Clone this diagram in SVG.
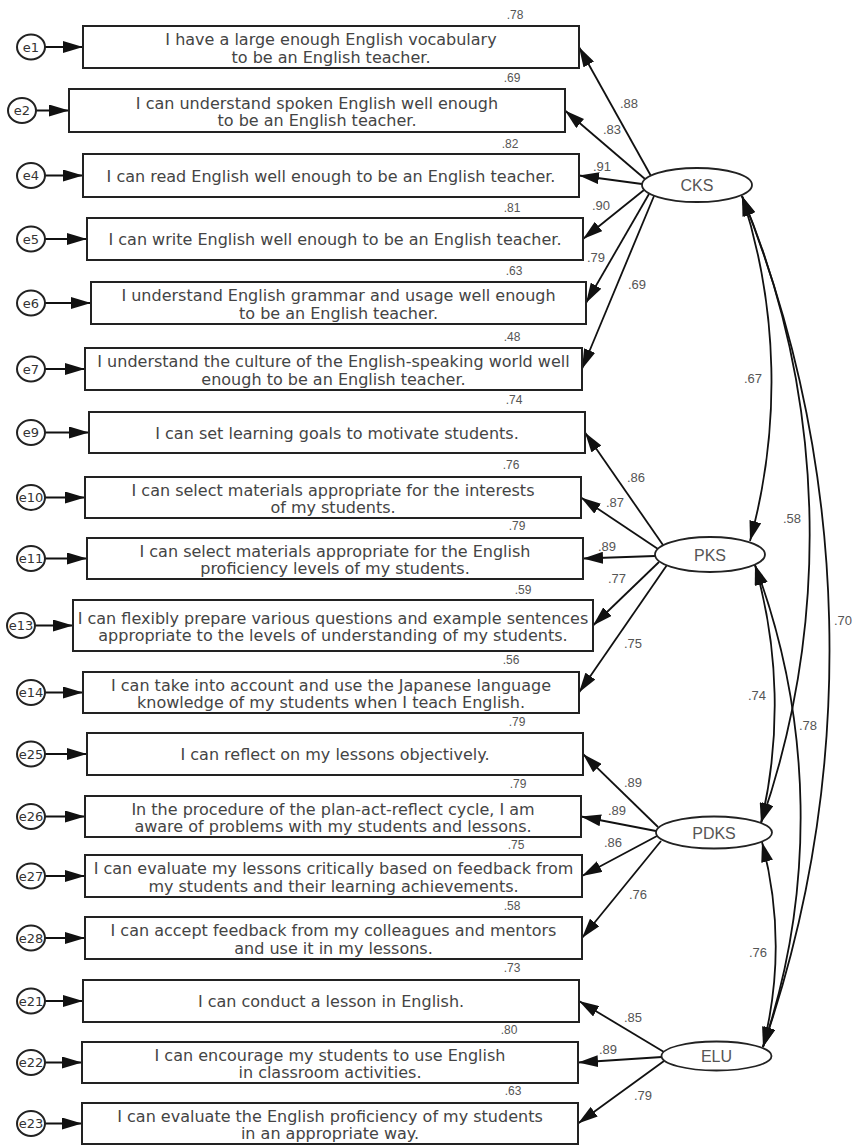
<svg xmlns="http://www.w3.org/2000/svg" width="856" height="1145" viewBox="0 0 856 1145">
<style>
.box{fill:#fff;stroke:#222;stroke-width:2}
.err{fill:#fff;stroke:#222;stroke-width:2}
.lat{fill:#fff;stroke:#222;stroke-width:1.8}
.t{font-family:"DejaVu Sans",sans-serif;font-size:16px;fill:#444;text-anchor:middle}
.el{font-family:"DejaVu Sans",sans-serif;font-size:13px;fill:#333;text-anchor:middle}
.lt{font-family:"Liberation Sans",Arial,sans-serif;font-size:16px;fill:#555;text-anchor:middle}
.n{font-family:"Liberation Sans",Arial,sans-serif;font-size:13px;fill:#555;text-anchor:middle}
.r{font-family:"Liberation Sans",Arial,sans-serif;font-size:12px;fill:#555;text-anchor:middle}
.c line,.c path{stroke:#111;stroke-width:1.8;fill:none;marker-end:url(#ah)}
.c path.cov{marker-start:url(#ah)}
</style>
<defs>
<marker id="ah" markerUnits="userSpaceOnUse" viewBox="0 0 20 12" markerWidth="20" markerHeight="12" refX="20" refY="6" orient="auto-start-reverse">
<path d="M0,0 L20,6 L0,12 Z" fill="#111"/>
</marker>
</defs>
<rect width="856" height="1145" fill="#fff"/>

<g id="connectors" class="c">
<line x1="45" y1="47" x2="83" y2="47"/>
<line x1="36" y1="110.5" x2="69" y2="110.5"/>
<line x1="45" y1="175.5" x2="83" y2="175.5"/>
<line x1="45" y1="239" x2="87" y2="239"/>
<line x1="45" y1="303" x2="91" y2="303"/>
<line x1="45" y1="369" x2="85" y2="369"/>
<line x1="45" y1="432.5" x2="89" y2="432.5"/>
<line x1="45" y1="497.5" x2="85" y2="497.5"/>
<line x1="45" y1="558.5" x2="87" y2="558.5"/>
<line x1="35" y1="625.5" x2="73" y2="625.5"/>
<line x1="45" y1="692.5" x2="83" y2="692.5"/>
<line x1="45" y1="754" x2="87" y2="754"/>
<line x1="45" y1="816.5" x2="85" y2="816.5"/>
<line x1="45" y1="876" x2="85" y2="876"/>
<line x1="45" y1="938" x2="85" y2="938"/>
<line x1="45" y1="1001" x2="83" y2="1001"/>
<line x1="45" y1="1062.5" x2="82" y2="1062.5"/>
<line x1="45" y1="1123.5" x2="82" y2="1123.5"/>

<line x1="651" y1="176" x2="579" y2="47"/>
<line x1="645" y1="179" x2="565" y2="110.5"/>
<line x1="642" y1="184" x2="579" y2="175.5"/>
<line x1="644" y1="190" x2="583" y2="239"/>
<line x1="649" y1="194" x2="586" y2="303"/>
<line x1="654" y1="196" x2="582" y2="369"/>

<line x1="663" y1="545" x2="585" y2="432.5"/>
<line x1="658" y1="549" x2="581" y2="497.5"/>
<line x1="655" y1="556" x2="583" y2="558.5"/>
<line x1="659" y1="562" x2="593" y2="625.5"/>
<line x1="667" y1="565" x2="579" y2="692.5"/>

<line x1="658" y1="827" x2="583" y2="754"/>
<line x1="656" y1="831" x2="581" y2="816.5"/>
<line x1="657" y1="836" x2="582" y2="876"/>
<line x1="661" y1="841" x2="582" y2="938"/>

<line x1="664" y1="1052" x2="579" y2="1001"/>
<line x1="662" y1="1057" x2="578" y2="1062.5"/>
<line x1="664" y1="1061" x2="578" y2="1123.5"/>

<path class="cov" d="M742,196 A600,600 0 0 1 750,541"/>
<path class="cov" d="M742,196 A880,880 0 0 1 761,823"/>
<path class="cov" d="M742,196 A1220,1220 0 0 1 763,1047"/>
<path class="cov" d="M755,565 A720,720 0 0 1 763,1047"/>
<path class="cov" d="M755,565 A510,510 0 0 1 761,823"/>
<path class="cov" d="M762,842 A410,410 0 0 1 763,1047"/>
</g>

<g id="labels">
<text class="n" x="629" y="107.5">.88</text>
<text class="n" x="612" y="133.5">.83</text>
<text class="n" x="602" y="170.5">.91</text>
<text class="n" x="601" y="209.5">.90</text>
<text class="n" x="596" y="261.5">.79</text>
<text class="n" x="637" y="288.5">.69</text>
<text class="n" x="636" y="481.5">.86</text>
<text class="n" x="615" y="506.5">.87</text>
<text class="n" x="607" y="550.5">.89</text>
<text class="n" x="617" y="582.5">.77</text>
<text class="n" x="633" y="647.5">.75</text>
<text class="n" x="633" y="786.5">.89</text>
<text class="n" x="617" y="814.5">.89</text>
<text class="n" x="613" y="846.5">.86</text>
<text class="n" x="638" y="898.5">.76</text>
<text class="n" x="633" y="1021.5">.85</text>
<text class="n" x="608" y="1053.5">.89</text>
<text class="n" x="643" y="1099.5">.79</text>
<text class="n" x="753" y="382.5">.67</text>
<text class="n" x="792" y="522.5">.58</text>
<text class="n" x="843" y="624.5">.70</text>
<text class="n" x="757" y="699.5">.74</text>
<text class="n" x="808" y="729.5">.78</text>
<text class="n" x="758" y="956.5">.76</text>
</g>

<g id="CKS"><ellipse class="lat" cx="697" cy="185" rx="55" ry="17"/><text class="lt" x="697" y="191">CKS</text></g>
<g id="PKS"><ellipse class="lat" cx="710" cy="554.5" rx="55" ry="17.5"/><text class="lt" x="710" y="560.5">PKS</text></g>
<g id="PDKS"><ellipse class="lat" cx="714" cy="832.5" rx="58" ry="16"/><text class="lt" x="714" y="838.5">PDKS</text></g>
<g id="ELU"><ellipse class="lat" cx="716.5" cy="1056" rx="55" ry="14.5"/><text class="lt" x="716.5" y="1062">ELU</text></g>

<g id="item1"><rect class="box" x="83" y="26" width="496" height="42"/><text class="t" x="331" y="45">I have a large enough English vocabulary</text><text class="t" x="331" y="62.5">to be an English teacher.</text><text class="r" x="515" y="19">.78</text></g>
<g id="e1"><ellipse class="err" cx="31" cy="47" rx="14" ry="12.5"/><text class="el" x="31" y="51.5">e1</text></g>

<g id="item2"><rect class="box" x="69" y="89" width="496" height="43"/><text class="t" x="317" y="108.5">I can understand spoken English well enough</text><text class="t" x="317" y="126">to be an English teacher.</text><text class="r" x="512" y="82">.69</text></g>
<g id="e2"><ellipse class="err" cx="22" cy="110.5" rx="14" ry="12.5"/><text class="el" x="22" y="115">e2</text></g>

<g id="item4"><rect class="box" x="83" y="154" width="496" height="43"/><text class="t" x="331" y="181.5">I can read English well enough to be an English teacher.</text><text class="r" x="510" y="148">.82</text></g>
<g id="e4"><ellipse class="err" cx="31" cy="175.5" rx="14" ry="12.5"/><text class="el" x="31" y="180">e4</text></g>

<g id="item5"><rect class="box" x="87" y="218" width="496" height="42"/><text class="t" x="335" y="245">I can write English well enough to be an English teacher.</text><text class="r" x="512" y="212">.81</text></g>
<g id="e5"><ellipse class="err" cx="31" cy="239" rx="14" ry="12.5"/><text class="el" x="31" y="243.5">e5</text></g>

<g id="item6"><rect class="box" x="91" y="282" width="495" height="42"/><text class="t" x="338.5" y="301">I understand English grammar and usage well enough</text><text class="t" x="338.5" y="318.5">to be an English teacher.</text><text class="r" x="514" y="275">.63</text></g>
<g id="e6"><ellipse class="err" cx="31" cy="303" rx="14" ry="12.5"/><text class="el" x="31" y="307.5">e6</text></g>

<g id="item7"><rect class="box" x="85" y="348" width="497" height="42"/><text class="t" x="333.5" y="367">I understand the culture of the English-speaking world well</text><text class="t" x="333.5" y="384.5">enough to be an English teacher.</text><text class="r" x="512" y="341">.48</text></g>
<g id="e7"><ellipse class="err" cx="31" cy="369" rx="14" ry="12.5"/><text class="el" x="31" y="373.5">e7</text></g>

<g id="item9"><rect class="box" x="89" y="412" width="496" height="41"/><text class="t" x="337" y="438.5">I can set learning goals to motivate students.</text><text class="r" x="514" y="404">.74</text></g>
<g id="e9"><ellipse class="err" cx="31" cy="432.5" rx="14" ry="12.5"/><text class="el" x="31" y="437">e9</text></g>

<g id="item10"><rect class="box" x="85" y="477" width="496" height="41"/><text class="t" x="333" y="495.5">I can select materials appropriate for the interests</text><text class="t" x="333" y="513">of my students.</text><text class="r" x="511" y="469">.76</text></g>
<g id="e10"><ellipse class="err" cx="31" cy="497.5" rx="14" ry="12.5"/><text class="el" x="31" y="502">e10</text></g>

<g id="item11"><rect class="box" x="87" y="538" width="496" height="41"/><text class="t" x="335" y="556.5">I can select materials appropriate for the English</text><text class="t" x="335" y="574">proficiency levels of my students.</text><text class="r" x="517" y="530">.79</text></g>
<g id="e11"><ellipse class="err" cx="31" cy="558.5" rx="14" ry="12.5"/><text class="el" x="31" y="563">e11</text></g>

<g id="item13"><rect class="box" x="73" y="600" width="520" height="51"/><text class="t" x="333" y="623.5">I can flexibly prepare various questions and example sentences</text><text class="t" x="333" y="641">appropriate to the levels of understanding of my students.</text><text class="r" x="523" y="594">.59</text></g>
<g id="e13"><ellipse class="err" cx="21" cy="625.5" rx="14" ry="12.5"/><text class="el" x="21" y="630">e13</text></g>

<g id="item14"><rect class="box" x="83" y="672" width="496" height="41"/><text class="t" x="331" y="690.5">I can take into account and use the Japanese language</text><text class="t" x="331" y="708">knowledge of my students when I teach English.</text><text class="r" x="511" y="664">.56</text></g>
<g id="e14"><ellipse class="err" cx="31" cy="692.5" rx="14" ry="12.5"/><text class="el" x="31" y="697">e14</text></g>

<g id="item25"><rect class="box" x="87" y="733" width="496" height="42"/><text class="t" x="335" y="760">I can reflect on my lessons objectively.</text><text class="r" x="517" y="726">.79</text></g>
<g id="e25"><ellipse class="err" cx="31" cy="754" rx="14" ry="12.5"/><text class="el" x="31" y="758.5">e25</text></g>

<g id="item26"><rect class="box" x="85" y="796" width="496" height="41"/><text class="t" x="333" y="814.5">In the procedure of the plan-act-reflect cycle, I am</text><text class="t" x="333" y="832">aware of problems with my students and lessons.</text><text class="r" x="518" y="788">.79</text></g>
<g id="e26"><ellipse class="err" cx="31" cy="816.5" rx="14" ry="12.5"/><text class="el" x="31" y="821">e26</text></g>

<g id="item27"><rect class="box" x="85" y="855" width="497" height="42"/><text class="t" x="333.5" y="874">I can evaluate my lessons critically based on feedback from</text><text class="t" x="333.5" y="891.5">my students and their learning achievements.</text><text class="r" x="516" y="849">.75</text></g>
<g id="e27"><ellipse class="err" cx="31" cy="876" rx="14" ry="12.5"/><text class="el" x="31" y="880.5">e27</text></g>

<g id="item28"><rect class="box" x="85" y="917" width="497" height="42"/><text class="t" x="333.5" y="936">I can accept feedback from my colleagues and mentors</text><text class="t" x="333.5" y="953.5">and use it in my lessons.</text><text class="r" x="512" y="910">.58</text></g>
<g id="e28"><ellipse class="err" cx="31" cy="938" rx="14" ry="12.5"/><text class="el" x="31" y="942.5">e28</text></g>

<g id="item21"><rect class="box" x="83" y="980" width="496" height="42"/><text class="t" x="331" y="1007">I can conduct a lesson in English.</text><text class="r" x="512" y="972">.73</text></g>
<g id="e21"><ellipse class="err" cx="31" cy="1001" rx="14" ry="12.5"/><text class="el" x="31" y="1005.5">e21</text></g>

<g id="item22"><rect class="box" x="82" y="1042" width="496" height="41"/><text class="t" x="330" y="1060.5">I can encourage my students to use English</text><text class="t" x="330" y="1078">in classroom activities.</text><text class="r" x="509" y="1034">.80</text></g>
<g id="e22"><ellipse class="err" cx="31" cy="1062.5" rx="14" ry="12.5"/><text class="el" x="31" y="1067">e22</text></g>

<g id="item23"><rect class="box" x="82" y="1103" width="496" height="41"/><text class="t" x="330" y="1121.5">I can evaluate the English proficiency of my students</text><text class="t" x="330" y="1139">in an appropriate way.</text><text class="r" x="513" y="1095">.63</text></g>
<g id="e23"><ellipse class="err" cx="31" cy="1123.5" rx="14" ry="12.5"/><text class="el" x="31" y="1128">e23</text></g>
</svg>
